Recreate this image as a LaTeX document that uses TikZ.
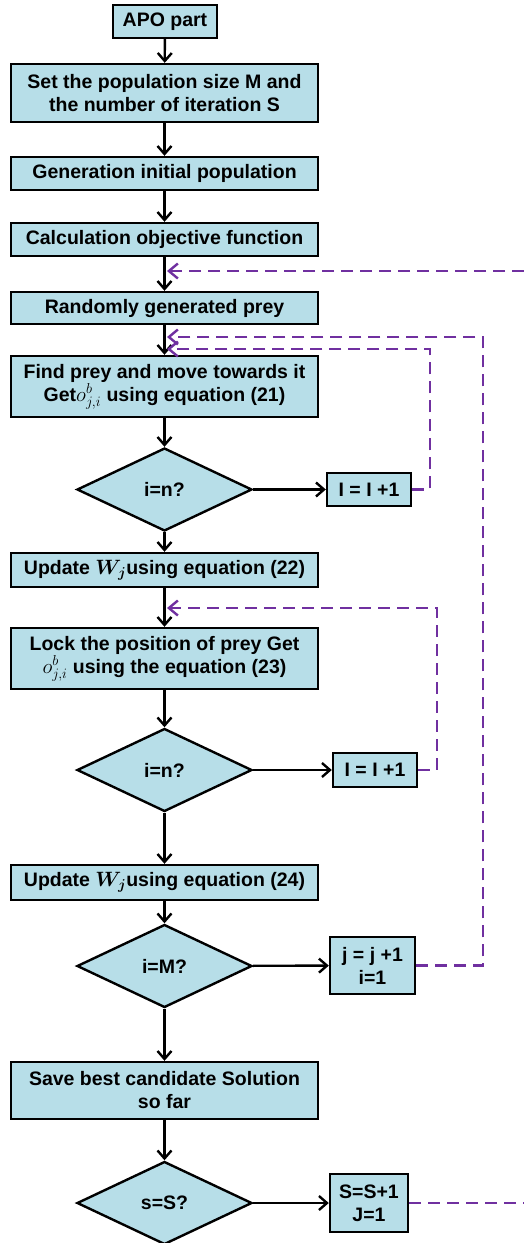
\documentclass[tikz,border=0pt]{standalone}
\usepackage{amsmath,bm}
\usepackage{fontspec}
\setmainfont{Liberation Sans}
\usetikzlibrary{shapes.geometric,arrows.meta}
\definecolor{boxfill}{HTML}{B7DEE8}
\definecolor{loopcol}{HTML}{7030A0}
\begin{document}
\begin{tikzpicture}[x=1pt,y=1pt,
  font=\bfseries\fontsize{19.5}{23}\selectfont,
  box/.style={draw=black,line width=2.4pt,fill=boxfill,rectangle,inner sep=0pt,
    minimum width=307pt,align=center},
  smallbox/.style={draw=black,line width=2.4pt,fill=boxfill,rectangle,inner sep=0pt,align=center},
  decision/.style={draw=black,line width=2.4pt,fill=boxfill,diamond,inner sep=0pt,
    minimum width=175pt,minimum height=83pt,aspect=2.1},
  flow/.style={line width=2.4pt,-{Straight Barb[length=8pt,width=14pt,line width=2.4pt]}},
  loop/.style={draw=loopcol,line width=2.4pt,dash pattern=on 12pt off 7pt,
    -{Straight Barb[length=9pt,width=15pt,line width=2.4pt]}},
  loopend/.style={draw=loopcol,line width=2.4pt,dash pattern=on 12pt off 7pt}]
\useasboundingbox (0,0) rectangle (523,-1243);

% main column
\node[smallbox,minimum width=104pt,minimum height=33pt] (apo) at (165,-21.5) {APO part};
\node[box,minimum height=58pt] (set) at (164.5,-93) {Set the population size M and\\the number of iteration S};
\node[box,minimum height=33pt] (gen) at (164.5,-173.5) {Generation initial population};
\node[box,minimum height=33pt] (calc) at (164.5,-239.5) {Calculation objective function};
\node[box,minimum height=32pt] (rand) at (164.5,-308) {Randomly generated prey};
\node[box,minimum height=61pt] (find) at (164.5,-386.5) {Find prey and move towards it\\Get$o^{b}_{j,i}$ using equation (21)};
\node[decision] (d1) at (164.5,-489.5) {i=n?};
\node[box,minimum height=34pt] (upd1) at (164.5,-570) {Update $\bm{W_j}$using equation (22)};
\node[box,minimum height=61pt] (lock) at (164.5,-658.5) {Lock the position of prey Get\\$o^{b}_{j,i}$ using the equation (23)};
\node[decision] (d2) at (164.5,-770) {i=n?};
\node[box,minimum height=35pt] (upd2) at (164.5,-882.5) {Update $\bm{W_j}$using equation (24)};
\node[decision] (d3) at (164.5,-966) {i=M?};
\node[box,minimum height=57pt] (save) at (164.5,-1090.5) {Save best candidate Solution\\so far};
\node[decision] (d4) at (164.5,-1203) {s=S?};

% side boxes
\node[smallbox,minimum width=84pt,minimum height=33pt] (inc1) at (369,-489.5) {I = I +1};
\node[smallbox,minimum width=84pt,minimum height=34pt] (inc2) at (375,-770) {I = I +1};
\node[smallbox,minimum width=85pt,minimum height=57pt] (incj) at (372.5,-965.5) {j = j +1\\i=1};
\node[smallbox,minimum width=78pt,minimum height=58pt] (incs) at (369,-1203) {S=S+1\\J=1};

% main flow
\draw[flow] (apo) -- (set);
\draw[flow] (set) -- (gen);
\draw[flow] (gen) -- (calc);
\draw[flow] (calc) -- (rand);
\draw[flow] (rand) -- (find);
\draw[flow] (find) -- (d1);
\draw[flow] (d1) -- (upd1);
\draw[flow] (upd1) -- (lock);
\draw[flow] (lock) -- (d2);
\draw[flow] (d2) -- (upd2);
\draw[flow] (upd2) -- (d3);
\draw[flow] (d3) -- (save);
\draw[flow] (save) -- (d4);
\draw[flow] (d1) -- (inc1);
\draw[flow] (d2) -- (inc2);
\draw[flow] (d3) -- (incj);
\draw[flow] (d4) -- (incs);

% feedback loops
\coordinate (c1) at (430,-349);
\coordinate (t1) at (167,-349);
\coordinate (c2) at (437,-608);
\coordinate (t2) at (167,-608);
\coordinate (c3) at (483,-337);
\coordinate (t3) at (167,-337);
\coordinate (e1) at (524,-1203);
\coordinate (e2) at (524,-271);
\coordinate (t4) at (167,-271);
\draw[loop] (inc1.east) -| (c1) -- (t1);
\draw[loop] (inc2.east) -| (c2) -- (t2);
\draw[loop] (incj.east) -| (c3) -- (t3);
\draw[loopend] (incs.east) -- (e1);
\draw[loop] (e2) -- (t4);
\end{tikzpicture}
\end{document}
